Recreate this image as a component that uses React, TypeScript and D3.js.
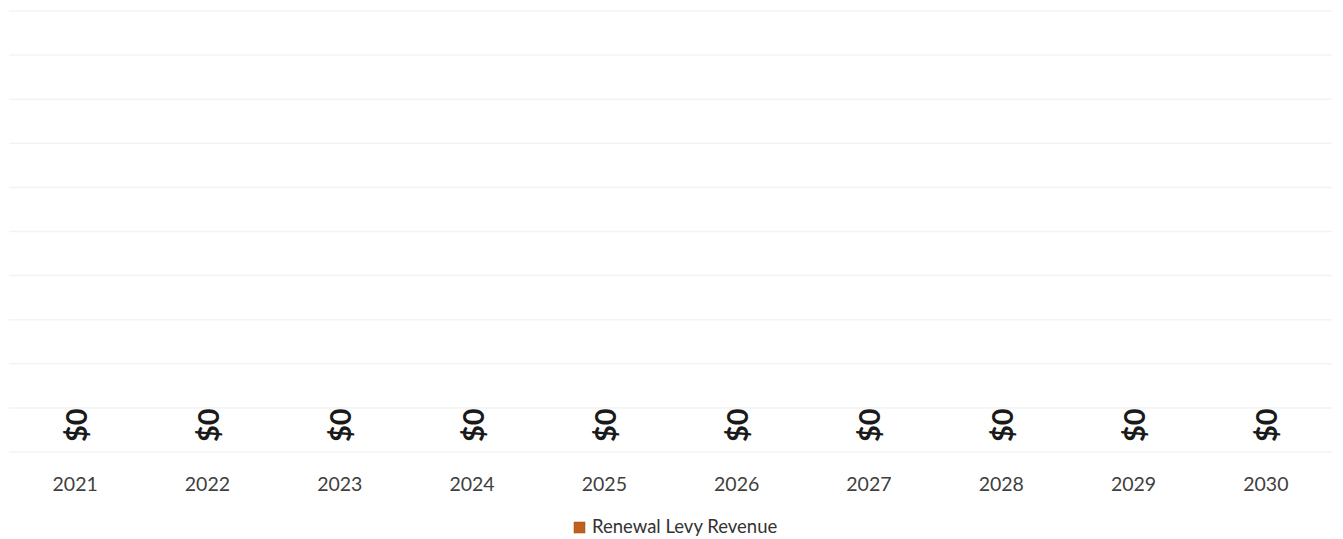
import React from "react";
import * as d3 from "d3";

const years = ["2021", "2022", "2023", "2024", "2025", "2026", "2027", "2028", "2029", "2030"];
const revenue = [0, 0, 0, 0, 0, 0, 0, 0, 0, 0];
const seriesName = "Renewal Levy Revenue";

const W = 1343;
const H = 539;

export default function App() {
  const x = d3
    .scaleBand<string>()
    .domain(years)
    .range([9, 1332])
    .paddingInner(0.45)
    .paddingOuter(0.225);
  const y = d3.scaleLinear().domain([0, 10]).range([452, 11]);
  const gridTicks = y.ticks(10);
  const fmt = (v: number) => "$" + d3.format(",.0f")(v);
  const font = "Lato, 'Open Sans', sans-serif";

  return (
    <svg
      width={W}
      height={H}
      style={{ position: "absolute", left: 0, top: 0, background: "#fff" }}
    >
      <g>
        {gridTicks.map((t) => (
          <line
            key={t}
            x1={9}
            x2={1332}
            y1={y(t)}
            y2={y(t)}
            stroke="#f3f3f3"
            strokeWidth={1.5}
          />
        ))}
      </g>
      <g>
        {years.map((yr, i) => (
          <rect
            key={yr}
            x={x(yr)}
            y={y(revenue[i])}
            width={x.bandwidth()}
            height={y(0) - y(revenue[i])}
            fill="#c0621f"
          />
        ))}
      </g>
      <g>
        {years.map((yr, i) => {
          const cx = (x(yr) as number) + x.bandwidth() / 2;
          const cy = y(revenue[i]) - 10;
          return (
            <text
              key={yr}
              transform={`translate(${cx},${cy}) rotate(-90)`}
              textAnchor="start"
              dominantBaseline="central"
              fontFamily={font}
              fontWeight={700}
              fontSize={29}
              fill="#1a1a1a"
            >
              {fmt(revenue[i])}
            </text>
          );
        })}
      </g>
      <g>
        {years.map((yr) => (
          <text
            key={yr}
            x={(x(yr) as number) + x.bandwidth() / 2}
            y={491}
            textAnchor="middle"
            fontFamily={font}
            fontSize={19.5}
            fill="#404040"
          >
            {yr}
          </text>
        ))}
      </g>
      <g transform="translate(574,522)">
        <rect x={0} y={0} width={11} height={11} fill="#c0621f" stroke="#9a4a14" strokeWidth={0.5} />
        <text x={18} y={11} fontFamily={font} fontSize={18.5} fill="#333">
          {seriesName}
        </text>
      </g>
    </svg>
  );
}
